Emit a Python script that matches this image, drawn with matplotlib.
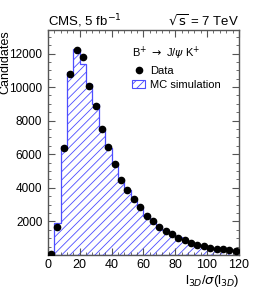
import numpy as np
import matplotlib
matplotlib.use("Agg")
import matplotlib.pyplot as plt
from matplotlib.patches import Patch
from matplotlib.lines import Line2D
from matplotlib.ticker import MultipleLocator

bin_edges = np.arange(0, 124, 4)
data_vals = [60, 1650, 6350, 10770, 12200, 11820, 10070, 8900, 7490, 6430,
             5440, 4470, 3875, 3330, 2840, 2340, 2000, 1690, 1450, 1240,
             1030, 870, 700, 600, 520, 440, 370, 350, 290, 220]
mc_vals = [30, 1880, 6500, 10900, 12250, 11350, 10180, 9000, 7450, 6350,
           5450, 4500, 3900, 3300, 2850, 2350, 2000, 1700, 1470, 1260,
           1050, 880, 720, 620, 540, 460, 390, 360, 300, 240]
xticks = [0, 20, 40, 60, 80, 100, 120]
yticks = [2000, 4000, 6000, 8000, 10000, 12000]

plt.rcParams['font.family'] = ['Liberation Sans', 'DejaVu Sans']
plt.rcParams['hatch.color'] = '#6a6aff'
plt.rcParams['hatch.linewidth'] = 0.6

fig = plt.figure(figsize=(2.66, 3.0), dpi=100)
ax = fig.add_axes([0.180, 0.150, 0.718, 0.75])

centers = (bin_edges[:-1] + bin_edges[1:]) / 2
ax.hist(centers, bins=bin_edges, weights=mc_vals, histtype='stepfilled',
        facecolor='white', edgecolor='#4d4dff', hatch='////', linewidth=0.9)
ax.plot(centers, data_vals, 'o', color='black', markersize=4.5, zorder=5)

ax.set_xlim(0, 120)
ax.set_ylim(0, 13400)
ax.set_xticks(xticks)
ax.set_yticks(yticks)
ax.xaxis.set_minor_locator(MultipleLocator(4))
ax.yaxis.set_minor_locator(MultipleLocator(500))
ax.tick_params(which='both', direction='in', top=True, right=True,
               color='#555555')
ax.tick_params(axis='y', labelsize=8.5, pad=4)
ax.tick_params(axis='x', labelsize=9, pad=3)
ax.tick_params(which='major', length=5)
ax.tick_params(which='minor', length=2.5)
for s in ax.spines.values():
    s.set_color('#555555')
    s.set_linewidth(1.0)

ax.set_ylabel('Candidates', fontsize=9, loc='top')
ax.yaxis.set_label_coords(-0.19, 1.0)
ax.set_xlabel(r'l$_{3D}$/$\sigma$(l$_{3D}$)', fontsize=9.5, loc='right', labelpad=1)
ax.set_title(r'CMS, 5 fb$^{-1}$', loc='left', fontsize=9.5, pad=2)
ax.set_title(r'$\sqrt{\rm s}$ = 7 TeV', loc='right', fontsize=9.5, pad=2)

handles = [Line2D([], [], marker='o', color='black', linestyle='none', markersize=4.5),
           Patch(facecolor='white', edgecolor='#4d4dff', hatch='////', linewidth=0.8)]
leg = ax.legend(handles, ['Data', 'MC simulation'],
                title=r'B$^{+}$ $\rightarrow$ J/$\psi$ K$^{+}$',
                loc='upper left', bbox_to_anchor=(0.40, 0.97), frameon=False,
                fontsize=8, title_fontsize=8, handlelength=1.2, handletextpad=0.4,
                labelspacing=0.35, borderpad=0.2)
leg._legend_box.align = 'left'
leg._legend_box.sep = 3

fig.savefig('out.png', dpi=100)
